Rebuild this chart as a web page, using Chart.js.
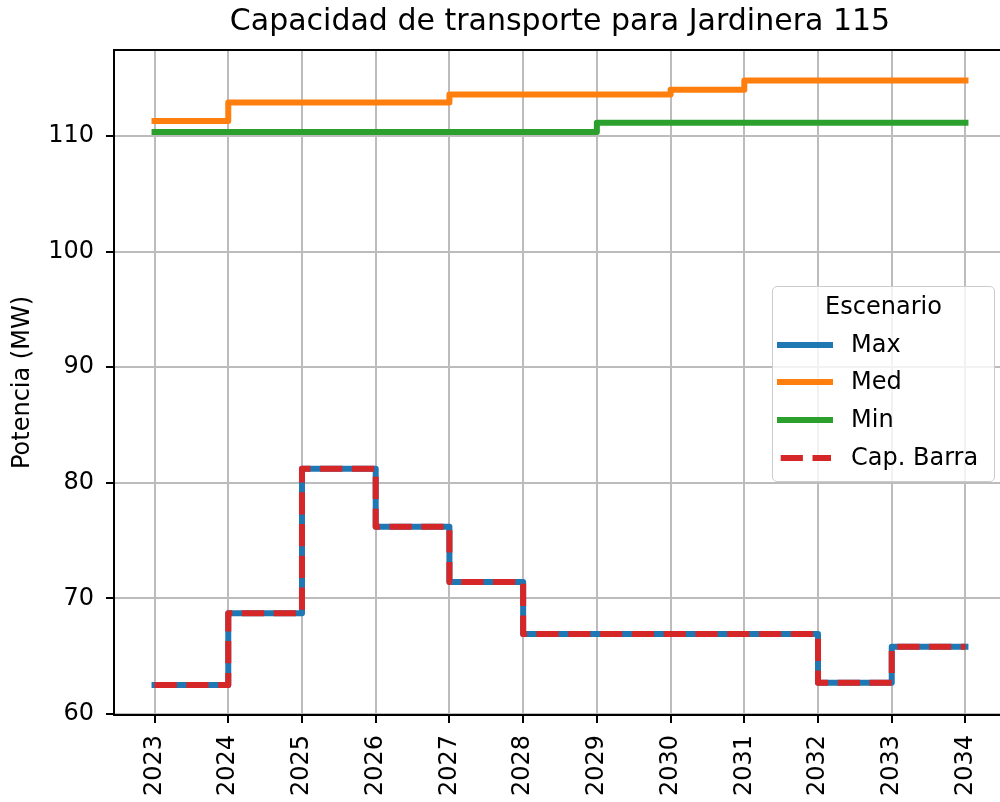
<!DOCTYPE html>
<html>
<head>
<meta charset="utf-8">
<title>Capacidad de transporte para Jardinera 115</title>
<script src="https://cdn.jsdelivr.net/npm/chart.js@4.4.0/dist/chart.umd.min.js"></script>
<style>
  html, body { margin: 0; padding: 0; background: #fff; overflow: hidden; }
  #wrap { position: relative; width: 1008px; height: 802px; }
  #legend {
    position: absolute; left: 772px; top: 286px; width: 223px; height: 196px;
    box-sizing: border-box; border: 1px solid #cccccc; border-radius: 5px;
    background: rgba(255, 255, 255, 0.8); padding-top: 1px;
    font-family: 'DejaVu Sans', sans-serif; font-size: 24px; color: #000;
  }
  #legend .title { text-align: center; line-height: 37.7px; height: 37.7px; }
  #legend .row { display: flex; align-items: center; height: 37.7px; line-height: 37.7px; padding-left: 4px; }
  #legend .row svg { flex: none; }
  #legend .row span { margin-left: 18px; white-space: nowrap; }
</style>
</head>
<body>
<div id="wrap">
  <canvas id="chart" width="1008" height="802"></canvas>
  <div id="legend"></div>
</div>
<script>
const years = [2023, 2024, 2025, 2026, 2027, 2028, 2029, 2030, 2031, 2032, 2033, 2034];
const maxValues = [62.5, 68.7, 81.2, 76.2, 71.4, 66.9, 66.9, 66.9, 66.9, 62.7, 65.8, 65.8];
const medValues = [111.3, 112.9, 112.9, 112.9, 113.6, 113.6, 113.6, 114.0, 114.8, 114.8, 114.8, 114.8];
const minValues = [110.35, 110.35, 110.35, 110.35, 110.35, 110.35, 111.15, 111.15, 111.15, 111.15, 111.15, 111.15];
const capBarraValues = [62.5, 68.7, 81.2, 76.2, 71.4, 66.9, 66.9, 66.9, 66.9, 62.7, 65.8, 65.8];
const yTicks = [60, 70, 80, 90, 100, 110];

const chartTitle = 'Capacidad de transporte para Jardinera 115';
const yTitle = 'Potencia (MW)';
const legendTitle = 'Escenario';

const gridColor = '#bcbcbc';
const font = 'DejaVu Sans';

Chart.defaults.font.family = font;
Chart.defaults.color = '#000';

function toPoints(values) {
  return years.map((year, i) => ({ x: year, y: values[i] }));
}

// top and right spines, matplotlib style box
const boxBorder = {
  id: 'boxBorder',
  afterDatasetsDraw(chart) {
    const { ctx, chartArea } = chart;
    ctx.save();
    ctx.strokeStyle = '#000';
    ctx.lineWidth = 2;
    ctx.beginPath();
    ctx.moveTo(chartArea.left, chartArea.top);
    ctx.lineTo(chartArea.right, chartArea.top);
    ctx.lineTo(chartArea.right, chartArea.bottom);
    ctx.stroke();
    ctx.restore();
  }
};

const lineDefaults = {
  borderWidth: 6,
  stepped: 'before',
  pointRadius: 0,
  borderCapStyle: 'square',
  borderJoinStyle: 'round',
  fill: false,
  order: 1
};

const ctx = document.getElementById('chart').getContext('2d');
const chart = new Chart(ctx, {
  type: 'line',
  data: {
    datasets: [
      { ...lineDefaults, label: 'Max', data: toPoints(maxValues), borderColor: '#1f77b4' },
      { ...lineDefaults, label: 'Med', data: toPoints(medValues), borderColor: '#ff7f0e' },
      { ...lineDefaults, label: 'Min', data: toPoints(minValues), borderColor: '#2ca02c' },
      {
        ...lineDefaults, label: 'Cap. Barra', data: toPoints(capBarraValues), borderColor: '#d62728',
        borderDash: [22.2, 9.6], borderCapStyle: 'butt', order: 0
      }
    ]
  },
  options: {
    responsive: false,
    animation: false,
    layout: { padding: { left: 0, right: 2, top: 0, bottom: 0 } },
    plugins: {
      legend: { display: false },
      tooltip: { enabled: false },
      title: {
        display: true,
        text: chartTitle,
        fullSize: false,
        color: '#000',
        font: { size: 30, weight: 'normal' },
        padding: { top: 4, bottom: 10 }
      }
    },
    scales: {
      x: {
        type: 'linear',
        min: 2022.45,
        max: 2034.55,
        afterBuildTicks: scale => { scale.ticks = years.map(v => ({ value: v })); },
        afterFit: scale => { scale.height = 87; },
        grid: { color: gridColor, lineWidth: 2, tickColor: '#000', tickWidth: 2, tickLength: 8 },
        border: { color: '#000', width: 2 },
        ticks: {
          autoSkip: false,
          minRotation: 90,
          maxRotation: 90,
          padding: 12,
          color: '#000',
          font: { size: 24 },
          callback: v => String(v)
        }
      },
      y: {
        min: 59.9,
        max: 117.45,
        afterBuildTicks: scale => { scale.ticks = yTicks.map(v => ({ value: v })); },
        afterFit: scale => { scale.width = 114; },
        grid: { color: gridColor, lineWidth: 2, tickColor: '#000', tickWidth: 2, tickLength: 8 },
        border: { color: '#000', width: 2 },
        title: {
          display: true,
          text: yTitle,
          color: '#000',
          font: { size: 24 },
          padding: { top: 8, bottom: 0 }
        },
        ticks: {
          padding: 12,
          color: '#000',
          font: { size: 24 },
          callback: v => String(v)
        }
      }
    }
  },
  plugins: [boxBorder]
});

// Legend built from the chart's datasets
function buildLegend(chart) {
  const legendEl = document.getElementById('legend');
  legendEl.innerHTML = '';
  const title = document.createElement('div');
  title.className = 'title';
  title.textContent = legendTitle;
  legendEl.appendChild(title);

  chart.data.datasets.forEach(ds => {
    const row = document.createElement('div');
    row.className = 'row';
    const svgNS = 'http://www.w3.org/2000/svg';
    const svg = document.createElementNS(svgNS, 'svg');
    svg.setAttribute('width', '56');
    svg.setAttribute('height', '8');
    const line = document.createElementNS(svgNS, 'line');
    const dashed = ds.borderDash && ds.borderDash.length;
    line.setAttribute('x1', dashed ? '3.7' : '0');
    line.setAttribute('x2', dashed ? '54' : '56');
    line.setAttribute('y1', '4');
    line.setAttribute('y2', '4');
    line.setAttribute('stroke', ds.borderColor);
    line.setAttribute('stroke-width', '6');
    if (dashed) line.setAttribute('stroke-dasharray', ds.borderDash.join(' '));
    svg.appendChild(line);
    const label = document.createElement('span');
    label.textContent = ds.label;
    row.appendChild(svg);
    row.appendChild(label);
    legendEl.appendChild(row);
  });
}

buildLegend(chart);
</script>
</body>
</html>
